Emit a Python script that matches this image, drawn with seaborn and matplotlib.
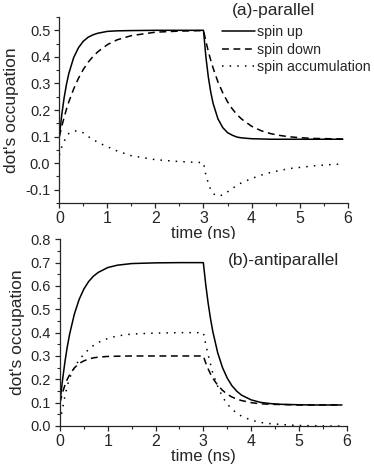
import numpy as np
import pandas as pd
import matplotlib
matplotlib.use("Agg")
import matplotlib.pyplot as plt
import seaborn as sns
from matplotlib.ticker import MultipleLocator

sns.set_style("ticks")
plt.rcParams['font.family'] = ['Liberation Sans', 'DejaVu Sans']

# time axis (ns), shared by all curves
time_ns = [0, 0.05, 0.1, 0.15, 0.2, 0.3, 0.4, 0.5, 0.6, 0.7, 0.8, 1.0, 1.2, 1.5, 2.0, 2.5, 3.0,
           3.05, 3.1, 3.15, 3.2, 3.3, 3.4, 3.5, 3.6, 3.7, 3.8, 4.0, 4.2, 4.4, 4.6, 4.8, 5.0, 5.3, 5.6, 5.9]

# (a) parallel
par_up = [0.1, 0.181, 0.246, 0.298, 0.339, 0.398, 0.435, 0.459, 0.474, 0.483, 0.489, 0.496, 0.498, 0.499, 0.5, 0.5, 0.5,
          0.400, 0.325, 0.268, 0.225, 0.167, 0.134, 0.115, 0.105, 0.098, 0.095, 0.092, 0.091, 0.09, 0.09, 0.09, 0.09, 0.09, 0.09, 0.09]
par_down = [0.1, 0.138, 0.172, 0.204, 0.232, 0.280, 0.320, 0.353, 0.380, 0.401, 0.419, 0.446, 0.464, 0.480, 0.493, 0.497, 0.499,
            0.459, 0.421, 0.388, 0.358, 0.306, 0.265, 0.231, 0.204, 0.182, 0.165, 0.139, 0.122, 0.111, 0.104, 0.099, 0.096, 0.093, 0.092, 0.091]
par_acc = [0.03, 0.06, 0.082, 0.1, 0.112, 0.121, 0.121, 0.114, 0.1, 0.09, 0.078, 0.062, 0.046, 0.028, 0.013, 0.006, 0.002,
           -0.045, -0.075, -0.1, -0.115, -0.124, -0.12, -0.108, -0.095, -0.083, -0.073, -0.058, -0.045, -0.035, -0.027, -0.02, -0.016, -0.01, -0.006, -0.003]

# (b) antiparallel
anti_up = [0.1, 0.192, 0.270, 0.336, 0.392, 0.479, 0.542, 0.587, 0.619, 0.642, 0.658, 0.679, 0.689, 0.696, 0.699, 0.7, 0.7,
           0.606, 0.527, 0.460, 0.403, 0.314, 0.251, 0.205, 0.172, 0.149, 0.132, 0.112, 0.101, 0.096, 0.093, 0.092, 0.091, 0.09, 0.09, 0.09]
anti_down = [0.1, 0.141, 0.173, 0.199, 0.219, 0.249, 0.268, 0.279, 0.287, 0.292, 0.295, 0.298, 0.299, 0.3, 0.3, 0.3, 0.3,
             0.270, 0.245, 0.223, 0.204, 0.175, 0.153, 0.136, 0.124, 0.115, 0.109, 0.100, 0.095, 0.093, 0.092, 0.091, 0.09, 0.09, 0.09, 0.09]
anti_acc = [0.02, 0.07, 0.125, 0.17, 0.205, 0.25, 0.283, 0.308, 0.328, 0.345, 0.358, 0.375, 0.386, 0.394, 0.398, 0.4, 0.4,
            0.35, 0.305, 0.265, 0.225, 0.17, 0.125, 0.094, 0.072, 0.055, 0.042, 0.025, 0.015, 0.01, 0.007, 0.004, 0.002, 0.001, 0.0, 0.0]

labels = ['spin up', 'spin down', 'spin accumulation']
styles = ['-', (0, (4.5, 3)), (0, (1, 4))]

fig = plt.figure(figsize=(3.74, 4.73), dpi=100)
ax_a = fig.add_axes([0.1586, 0.5708, 0.771, 0.3932])
ax_b = fig.add_axes([0.1604, 0.0994, 0.7666, 0.3947])

panels = [(ax_a, [par_up, par_down, par_acc], (-0.15, 0.55)),
          (ax_b, [anti_up, anti_down, anti_acc], (0.0, 0.8))]

for ax, series, ylim in panels:
    for vals, lab, ls in zip(series, labels, styles):
        df = pd.DataFrame({'t': time_ns, 'n': vals})
        sns.lineplot(data=df, x='t', y='n', ax=ax, color='black', linestyle=ls,
                     linewidth=1.1, label=lab, clip_on=True)
    ax.set_xlim(0, 6)
    ax.set_ylim(*ylim)
    ax.xaxis.set_major_locator(MultipleLocator(1))
    ax.xaxis.set_minor_locator(MultipleLocator(0.5))
    ax.yaxis.set_major_locator(MultipleLocator(0.1))
    ax.yaxis.set_minor_locator(MultipleLocator(0.05))
    ax.yaxis.set_major_formatter(plt.FormatStrFormatter('%.1f'))
    sns.despine(ax=ax)
    ax.tick_params(which='major', direction='out', length=3.5, width=0.9)
    ax.tick_params(which='minor', direction='out', length=2, width=0.8)
    ax.tick_params(axis='x', labelsize=11.5, pad=2)
    ax.tick_params(axis='y', labelsize=10.5, pad=3)
    for s in ['left', 'bottom']:
        ax.spines[s].set_linewidth(0.9)
    ax.set_xlabel('time (ns)', fontsize=12, labelpad=0.5)
    ax.set_ylabel("dot's occupation", fontsize=12.5, labelpad=4)

ax_a.legend(loc='upper left', bbox_to_anchor=(0.564, 0.955), frameon=False, fontsize=10.2,
            handlelength=2.3, handletextpad=0.2, labelspacing=0.22, borderpad=0, borderaxespad=0)
ax_b.get_legend().remove()

ax_a.text(0.744, 1.035, '(a)-parallel', transform=ax_a.transAxes, ha='center', va='center', fontsize=12.5)
ax_b.text(0.781, 0.889, '(b)-antiparallel', transform=ax_b.transAxes, ha='center', va='center', fontsize=12.5)

fig.savefig('out.png', dpi=100)
